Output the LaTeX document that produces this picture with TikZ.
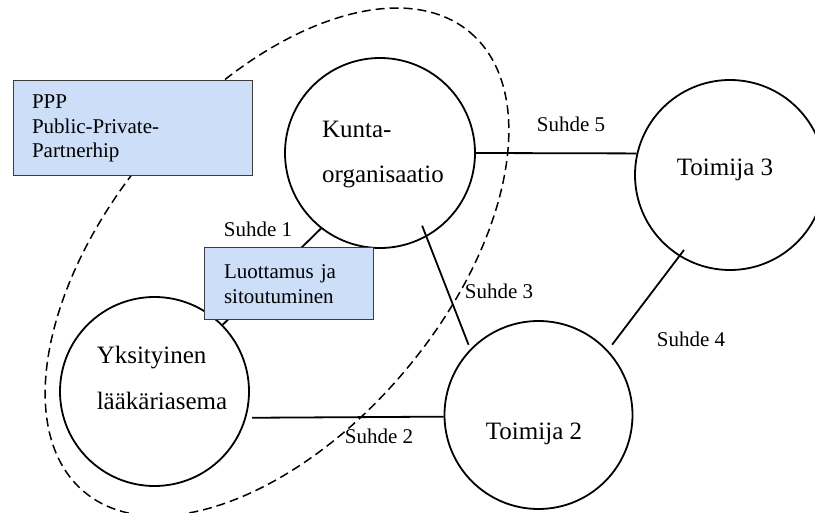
\documentclass[tikz,border=0pt]{standalone}
\usepackage{fontspec}
\setmainfont{Liberation Serif}
\usetikzlibrary{calc}
\definecolor{kasti}{RGB}{205,222,248}
\definecolor{reuna}{RGB}{60,60,60}

\begin{document}
\begin{tikzpicture}[x=1pt, y=-1pt, line width=1.8pt,
	toimija/.style={circle, draw, minimum size=190pt, inner sep=0pt},
	nimi/.style={font=\fontsize{25}{45}\selectfont, align=left, inner sep=0pt},
	suhde/.style={font=\fontsize{21}{25}\selectfont, inner sep=0pt, anchor=base west},
	laatikko/.style={draw=reuna, line width=1pt, fill=kasti, font=\fontsize{21}{24.5}\selectfont, align=left, inner sep=0pt}]

	\useasboundingbox (0,0) rectangle (815,513);

	% PPP-alue
	\draw[line width=1.5pt, dash pattern=on 9pt off 5pt, rotate around={50:(277,262)}] (277,262) ellipse [x radius=300, y radius=168];

	\node[toimija] (kunta) at (380,153) {};
	\node[toimija] (toim3) at (730,175) {};
	\node[toimija, minimum size=189pt] (yks) at (154.5,391.5) {};
	\node[toimija, minimum size=188pt] (toim2) at (538.5,415) {};

	% suhteet
	\draw (kunta.232) -- (yks);
	\draw (kunta.0) -- (toim3.167);
	\draw[shorten <=6pt] (yks.-16) -- (toim2.181);
	\draw[shorten <=-12pt, shorten >=4.6pt] (kunta.-61) -- (toim2.136);
	\draw[shorten <=7pt, shorten >=-8pt] (toim2.43) -- (toim3.238);

	\node[laatikko, minimum width=239pt, minimum height=95pt, text width=201pt] (ppp) at (132.5,128.5) {PPP\\Public-Private-\\Partnerhip};
	\node[laatikko, minimum width=169pt, minimum height=72pt, text width=129pt] (luott) at (288.5,284) {Luottamus ja\\sitoutuminen};

	\node[nimi] (kuntaT) at (383,155) {Kunta-\\organisaatio};
	\node[nimi, font=\fontsize{25}{46}\selectfont] (yksT) at (162,377.5) {Yksityinen\\lääkäriasema};
	\node[nimi] (toim2T) at (534,434) {Toimija 2};
	\node[nimi] (toim3T) at (725,170) {Toimija 3};

	\node[suhde] (s1) at (223,237) {Suhde 1};
	\node[suhde] (s2) at (344,443) {Suhde 2};
	\node[suhde] (s3) at (464,299) {Suhde 3};
	\node[suhde] (s4) at (656,347) {Suhde 4};
	\node[suhde] (s5) at (536,132) {Suhde 5};
\end{tikzpicture}
\end{document}
